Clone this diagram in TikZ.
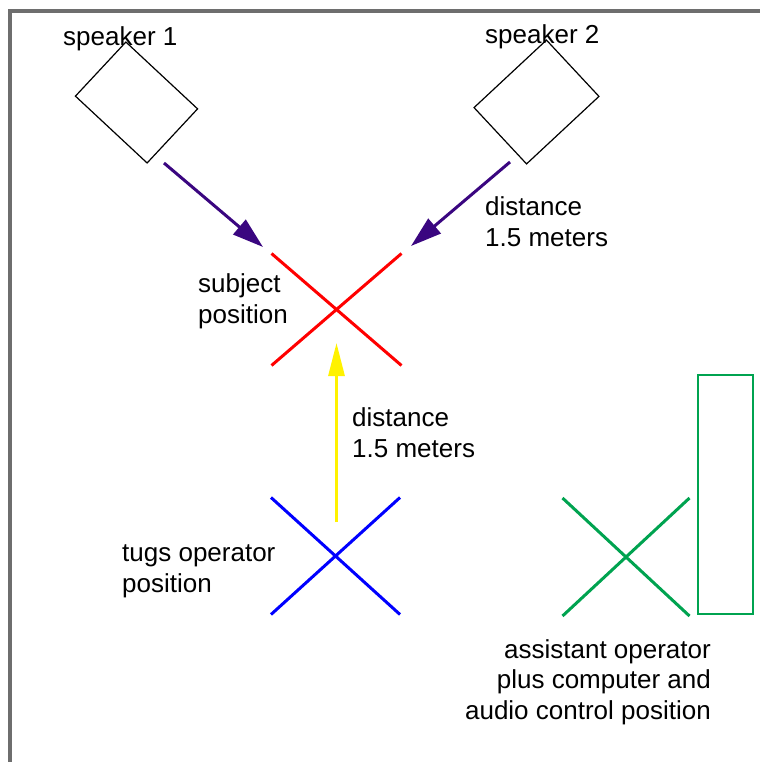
\documentclass[tikz,border=0pt]{standalone}
\usepackage{fontspec}
\setmainfont{Liberation Sans}
\usetikzlibrary{ arrows.meta,
                 shapes.misc, % For the cross out shape
               }
\definecolor{framegray}{RGB}{110,110,110}
\definecolor{arrowviolet}{RGB}{58,6,128}
\definecolor{opgreen}{RGB}{0,163,80}
\tikzstyle{speaker} = [rectangle, draw=black, line width=1.2pt]
\tikzstyle{place} = [cross out, line width=3pt, inner sep=0pt]
\tikzstyle{label} = [inner sep=0pt, font=\fontsize{26}{30.5}\selectfont]
\tikzstyle{beam} = [draw=arrowviolet, line width=3pt, -{Triangle[length=31pt, width=19pt]}]
\tikzstyle{reach} = [draw=yellow, line width=3pt, -{Triangle[length=33pt, width=16pt]}]

\begin{document}
\begin{tikzpicture}[x=1pt, y=-1pt]
  \useasboundingbox (0, 0) rectangle (760, 762);
  \draw [framegray, line width=4pt] (10, 762) -- (10, 11) -- (760, 11);

  % speakers
  \node (spk1) [speaker, rotate=-43, minimum width=98pt, minimum height=74pt] at (136.5, 102.5) {};
  \node (spk2) [speaker, rotate=43, minimum width=99pt, minimum height=77pt] at (536.5, 102) {};
  \node (spk1l) [label, anchor=base west] at (63, 46) {speaker 1};
  \node (spk2l) [label, anchor=base west] at (485, 44) {speaker 2};

  % positions
  \node (subj) [place, draw=red, minimum width=127pt, minimum height=109pt] at (336.5, 309.5) {};
  \node (tugs) [place, draw=blue, minimum width=126pt, minimum height=114pt] at (335.5, 556) {};
  \node (asst) [place, draw=opgreen, minimum width=124pt, minimum height=115pt] at (626, 557) {};
  \node (comp) [rectangle, draw=opgreen, line width=2pt, minimum width=55pt, minimum height=239pt] at (725.5, 494.5) {};

  % multi-line labels sit on their last baseline
  \node (subjl) [label, anchor=base west, align=left] at (198, 323) {subject\\position};
  \node (tugsl) [label, anchor=base west, align=left] at (122, 592) {tugs operator\\position};
  \node (asstl) [label, anchor=base east, align=right] at (711, 719) {assistant operator\\plus computer and\\audio control position};

  % distances
  \coordinate (b1s) at (164, 163);
  \coordinate (b1e) at (263, 247);
  \coordinate (b2s) at (510, 162);
  \coordinate (b2e) at (411, 246);
  \coordinate (ys) at (336.5, 522);
  \coordinate (ye) at (336.5, 343);
  \draw [beam] (b1s) -- (b1e);
  \draw [beam] (b2s) -- (b2e);
  \draw [reach] (ys) -- (ye);
  \node (d1) [label, anchor=base west, align=left] at (485, 246) {distance\\1.5 meters};
  \node (d2) [label, anchor=base west, align=left] at (352, 457) {distance\\1.5 meters};
\end{tikzpicture}
\end{document}
